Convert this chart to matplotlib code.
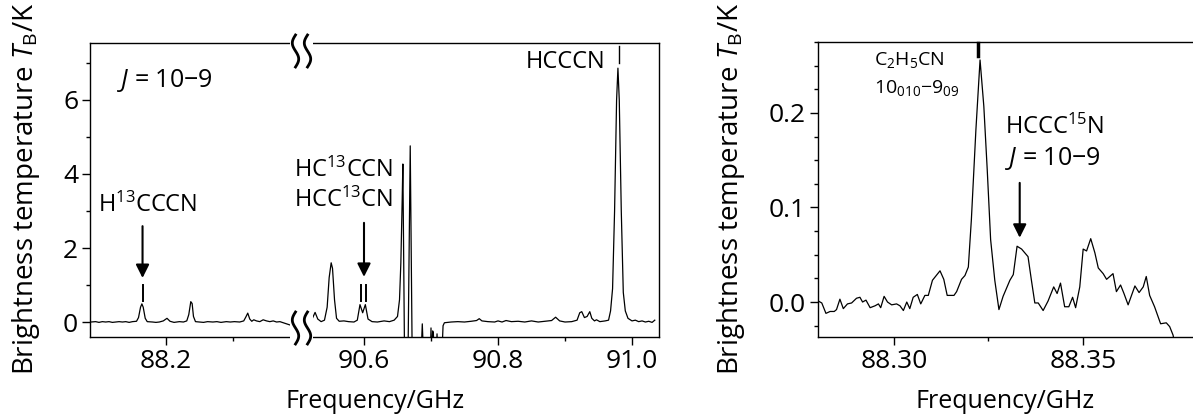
import numpy as np
import matplotlib
matplotlib.use("Agg")
import matplotlib.pyplot as plt
from matplotlib.lines import Line2D
from matplotlib.patches import Rectangle
from matplotlib.ticker import FixedLocator, MultipleLocator

plt.rcParams['font.family'] = ['Open Sans', 'DejaVu Sans']
plt.rcParams['mathtext.fontset'] = 'custom'
plt.rcParams['mathtext.rm'] = 'Open Sans'
plt.rcParams['mathtext.it'] = 'Open Sans:italic'
plt.rcParams['mathtext.bf'] = 'Open Sans:bold'
plt.rcParams['axes.linewidth'] = 1.0

# left spectrum, low-frequency segment (GHz, K)
freq_lo = [88.088, 88.095, 88.100, 88.105, 88.110, 88.115, 88.120, 88.125, 88.130, 88.135,
           88.140, 88.145, 88.150, 88.156, 88.159, 88.162, 88.164, 88.166, 88.169, 88.172,
           88.180, 88.185, 88.190, 88.196, 88.2015, 88.206, 88.212, 88.220, 88.226, 88.231,
           88.234, 88.237, 88.239, 88.241, 88.244, 88.250, 88.256, 88.262, 88.270, 88.276,
           88.282, 88.290, 88.296, 88.302, 88.310, 88.316, 88.319, 88.322, 88.325, 88.328,
           88.331, 88.335, 88.340, 88.345, 88.350, 88.355, 88.360, 88.365, 88.370, 88.375,
           88.380, 88.385, 88.390, 88.396]
tb_lo = [0.00, 0.01, -0.01, 0.01, 0.00, 0.01, -0.01, 0.00, 0.01, 0.00,
         0.01, -0.01, 0.01, 0.02, 0.12, 0.40, 0.49, 0.40, 0.10, 0.01,
         0.00, -0.01, 0.00, 0.03, 0.10, 0.02, -0.01, 0.01, 0.00, 0.03,
         0.20, 0.55, 0.50, 0.15, 0.01, 0.00, -0.01, 0.01, 0.00, 0.01,
         -0.01, 0.01, 0.00, 0.01, 0.00, 0.03, 0.13, 0.24, 0.08, 0.02,
         0.06, 0.03, 0.01, 0.06, 0.03, 0.01, 0.03, 0.00, 0.01, -0.02,
         -0.05, -0.08, -0.05, -0.02]

# left spectrum, high-frequency segment (GHz, K)
freq_hi = [90.503, 90.510, 90.518, 90.523, 90.527, 90.531, 90.536, 90.541, 90.545, 90.548,
           90.551, 90.553, 90.556, 90.559, 90.563, 90.570, 90.577, 90.585, 90.590, 90.594,
           90.598, 90.602, 90.606, 90.612, 90.620, 90.630, 90.638, 90.645, 90.650, 90.653,
           90.655, 90.657, 90.658, 90.6615, 90.6645, 90.669, 90.673, 90.685, 90.687, 90.689,
           90.699, 90.700, 90.701, 90.7025, 90.7035, 90.705, 90.708, 90.709, 90.710, 90.716,
           90.718, 90.720, 90.730, 90.740, 90.750, 90.760, 90.768, 90.772, 90.776, 90.785,
           90.795, 90.800, 90.806, 90.812, 90.820, 90.830, 90.840, 90.850, 90.860, 90.870,
           90.880, 90.886, 90.892, 90.900, 90.910, 90.918, 90.922, 90.925, 90.929, 90.933,
           90.937, 90.940, 90.944, 90.947, 90.952, 90.960, 90.965, 90.968, 90.971, 90.974,
           90.977, 90.979, 90.981, 90.984, 90.987, 90.990, 90.994, 91.000, 91.005, 91.010,
           91.015, 91.020, 91.025, 91.030, 91.034]
tb_hi = [-0.02, 0.00, 0.02, 0.10, 0.26, 0.08, 0.01, 0.05, 0.40, 1.20,
         1.60, 1.45, 0.60, 0.10, 0.02, 0.03, 0.01, 0.00, 0.05, 0.47,
         0.25, 0.47, 0.08, 0.01, 0.00, 0.03, 0.01, 0.05, 0.15, 0.60,
         1.60, 3.30, 4.27, -3.00, -3.00, 4.76, -3.00, -1.00, -0.05, -1.00,
         -1.00, -0.16, -1.00, -0.24, -0.30, -1.00, -1.00, -0.32, -1.00, -1.00,
         -0.10, -0.02, 0.00, 0.01, 0.00, 0.02, 0.04, 0.09, 0.03, 0.01,
         0.00, 0.03, 0.00, 0.04, 0.01, 0.02, 0.00, 0.03, 0.00, 0.02,
         0.04, 0.13, 0.03, 0.00, 0.01, 0.05, 0.25, 0.28, 0.12, 0.15,
         0.28, 0.10, 0.03, 0.06, 0.01, 0.03, 0.05, 0.30, 0.90, 3.00,
         6.00, 6.86, 6.00, 3.00, 0.80, 0.30, 0.10, 0.03, 0.05, 0.01,
         0.03, 0.00, 0.02, -0.01, 0.05]

# right spectrum (GHz, K)
freq_r = [88.2800, 88.2809, 88.2820, 88.2831, 88.2842, 88.2848, 88.2857, 88.2866, 88.2877, 88.2888,
          88.2901, 88.2910, 88.2917, 88.2926, 88.2937, 88.2950, 88.2959, 88.2965, 88.2974, 88.2983,
          88.2994, 88.3007, 88.3016, 88.3025, 88.3034, 88.3042, 88.3051, 88.3062, 88.3071, 88.3082,
          88.3091, 88.3102, 88.3122, 88.3132, 88.3141, 88.3159, 88.3166, 88.3179, 88.3188, 88.3197,
          88.3205, 88.3217, 88.3228, 88.3238, 88.3247, 88.3256, 88.3267, 88.3278, 88.3289, 88.3307,
          88.3316, 88.3326, 88.3338, 88.3355, 88.3364, 88.3373, 88.3382, 88.3395, 88.3408, 88.3423,
          88.3432, 88.3441, 88.3452, 88.3463, 88.3473, 88.3481, 88.3492, 88.3501, 88.3510, 88.3521,
          88.3532, 88.3541, 88.3554, 88.3563, 88.3580, 88.3589, 88.3600, 88.3609, 88.3620, 88.3638,
          88.3649, 88.3660, 88.3668, 88.3677, 88.3690, 88.3706, 88.3721, 88.3730, 88.3739, 88.3750,
          88.3765, 88.3780, 88.3795]
tb_r = [0.001, -0.001, -0.012, -0.010, -0.010, -0.008, 0.003, -0.007, -0.002, -0.001,
        0.004, 0.005, 0.000, 0.002, -0.006, -0.004, -0.002, -0.006, 0.006, 0.000,
        -0.003, -0.002, -0.004, -0.009, 0.000, -0.007, 0.005, 0.008, -0.002, 0.007,
        0.007, 0.023, 0.033, 0.024, 0.007, 0.007, 0.011, 0.024, 0.028, 0.037,
        0.087, 0.182, 0.256, 0.207, 0.140, 0.066, 0.023, -0.008, 0.006, 0.023,
        0.029, 0.059, 0.056, 0.048, 0.023, -0.001, -0.001, -0.009, 0.001, 0.016,
        0.009, 0.020, -0.005, -0.005, 0.005, -0.006, 0.016, 0.056, 0.054, 0.067,
        0.052, 0.036, 0.030, 0.024, 0.030, 0.011, 0.018, 0.009, -0.003, 0.017,
        0.010, 0.016, 0.027, 0.007, -0.005, -0.023, -0.022, -0.026, -0.035, -0.060,
        -0.070, -0.065, -0.070]

lw_spec = 0.9
fig = plt.figure(figsize=(11.93, 4.16), dpi=100)
W, H = 1193.0, 416.0
ax1 = fig.add_axes([90 / W, 79 / H, 207 / W, 294 / H])
ax2 = fig.add_axes([297 / W, 79 / H, 362 / W, 294 / H])
ax3 = fig.add_axes([818 / W, 79 / H, 397 / W, 295 / H])

ax1.plot(freq_lo, tb_lo, color='k', lw=lw_spec)
ax2.plot(freq_hi, tb_hi, color='k', lw=lw_spec)
ax3.plot(freq_r, tb_r, color='k', lw=lw_spec)

ylim_l = (-0.405, 7.54)
ax1.set_xlim(88.0866, 88.3955)
ax2.set_xlim(90.5, 91.0403)
ax1.set_ylim(*ylim_l)
ax2.set_ylim(*ylim_l)
ax3.set_xlim(88.2799, 88.385)
ax3.set_ylim(-0.037, 0.275)

ax1.spines['right'].set_visible(False)
ax2.spines['left'].set_visible(False)
ax3.spines['right'].set_visible(False)

ax1.xaxis.set_major_locator(FixedLocator([88.2]))
ax1.xaxis.set_minor_locator(FixedLocator([88.3]))
ax2.xaxis.set_major_locator(FixedLocator([90.6, 90.8, 91.0]))
ax2.xaxis.set_minor_locator(FixedLocator([90.7, 90.9]))
ax1.yaxis.set_major_locator(FixedLocator([0, 2, 4, 6]))
ax1.yaxis.set_minor_locator(FixedLocator([1, 3, 5, 7]))
ax2.yaxis.set_visible(False)
ax3.xaxis.set_major_locator(FixedLocator([88.30, 88.35]))
ax3.xaxis.set_minor_locator(FixedLocator([88.325]))
ax3.yaxis.set_major_locator(FixedLocator([0.0, 0.1, 0.2]))
ax3.yaxis.set_minor_locator(MultipleLocator(0.025))
ax3.set_xticklabels(['88.30', '88.35'])
ax3.set_yticklabels(['0.0', '0.1', '0.2'])
ax1.set_xticklabels(['88.2'])
ax2.set_xticklabels(['90.6', '90.8', '91.0'])

for ax in (ax1, ax2, ax3):
    ax.tick_params(which='major', direction='out', length=5.5, width=1.0, labelsize=19, pad=3)
    ax.tick_params(which='minor', direction='out', length=3.2, width=1.0)

ylab = r'Brightness temperature $T_\mathrm{B}$/K'
fig.text(26 / W, 1 - 189 / H, ylab, fontsize=20, rotation=90, ha='center', va='center')
fig.text(731 / W, 1 - 189 / H, ylab, fontsize=20, rotation=90, ha='center', va='center')
fig.text(375 / W, 1 - 401 / H, 'Frequency/GHz', fontsize=18, ha='center', va='center')
fig.text(1005 / W, 1 - 402 / H, 'Frequency/GHz', fontsize=18, ha='center', va='center')

# annotations
fs = 17
jlab = r'$J$ = 10−9'
ax1.text(88.127, 6.54, jlab, fontsize=18, ha='left', va='center')
ax1.text(88.0985, 3.16, r'H$^{13}$CCCN', fontsize=fs, ha='left', va='center')
ax2.text(90.643, 4.11, r'HC$^{13}$CCN', fontsize=fs, ha='right', va='center')
ax2.text(90.643, 3.30, r'HCC$^{13}$CN', fontsize=fs, ha='right', va='center')
ax2.text(90.961, 7.03, 'HCCCN', fontsize=fs, ha='right', va='center')

arrow = dict(arrowstyle='-|>', color='k', lw=1.5, mutation_scale=20, shrinkA=0, shrinkB=0)
ax1.annotate('', xy=(88.165, 1.19), xytext=(88.165, 2.59), arrowprops=arrow)
ax2.annotate('', xy=(90.600, 1.22), xytext=(90.600, 2.68), arrowprops=arrow)
ax1.plot([88.165, 88.165], [0.57, 1.0], color='k', lw=1.4)
for fx in (90.5955, 90.603):
    ax2.plot([fx, fx], [0.57, 1.0], color='k', lw=1.4)
ax2.plot([90.9806, 90.9806], [7.0, 7.46], color='k', lw=1.0)

ax3.text(88.2947, 0.256, r'C$_2$H$_5$CN', fontsize=14, ha='left', va='center')
ax3.text(88.2947, 0.2265, r'10$_{010}$−9$_{09}$', fontsize=14, ha='left', va='center')
ax3.text(88.3294, 0.185, r'HCCC$^{15}$N', fontsize=fs, ha='left', va='center')
ax3.text(88.3294, 0.152, jlab, fontsize=18, ha='left', va='center')
ax3.annotate('', xy=(88.3333, 0.068), xytext=(88.3333, 0.126), arrowprops=arrow)
ax3.plot([88.3222, 88.3222], [0.260, 0.274], color='k', lw=2.5, clip_on=False)

# axis break marks (drawn in pixel units, then mapped to figure fraction)
s = np.linspace(0, 1, 40)
for ymid, (r0, r1) in ((51, (39, 47)), (328, (314, 342))):
    fig.patches.append(Rectangle((290 / W, 1 - r1 / H), 23 / W, (r1 - r0) / H,
                                 transform=fig.transFigure, facecolor='white',
                                 edgecolor='none', zorder=5))
    for xc in (295.5, 307.5):
        xs = xc - 3.2 * np.sin(2 * np.pi * s)
        ys = ymid - 16 + 32 * s
        fig.lines.append(Line2D(xs / W, 1 - ys / H, transform=fig.transFigure,
                                color='k', lw=2.0, zorder=6))

fig.savefig('out.png', dpi=100)
